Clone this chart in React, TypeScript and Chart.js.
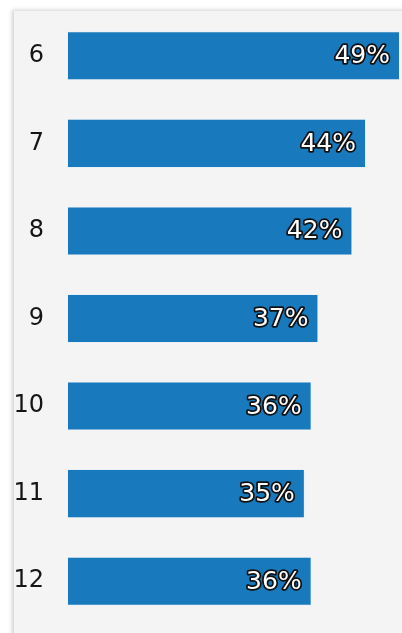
import React, { useEffect, useRef } from "react";
import { Chart, registerables } from "chart.js";

Chart.register(...registerables);

const categories = ["6", "7", "8", "9", "10", "11", "12"];
const values = [49, 44, 42, 37, 36, 35, 36];

const labelPlugin = {
  id: "valueLabels",
  afterDatasetsDraw(chart: any) {
    const ctx = chart.ctx;
    const meta = chart.getDatasetMeta(0);
    ctx.save();
    ctx.font = "500 25px 'DejaVu Sans', sans-serif";
    ctx.textAlign = "right";
    ctx.textBaseline = "middle";
    ctx.lineJoin = "round";
    meta.data.forEach((bar: any, i: number) => {
      const text = values[i] + "%";
      const x = bar.x - 10;
      const y = bar.y + 1;
      ctx.lineWidth = 3.5;
      ctx.strokeStyle = "#111";
      ctx.strokeText(text, x, y);
      ctx.fillStyle = "#ffffff";
      ctx.fillText(text, x, y);
    });
    ctx.restore();
  },
};

export default function App() {
  const ref = useRef<HTMLCanvasElement>(null);
  useEffect(() => {
    const chart = new Chart(ref.current!, {
      type: "bar",
      data: {
        labels: categories,
        datasets: [
          {
            data: values,
            backgroundColor: "#1879bd",
            borderColor: "#e9f1f8",
            borderWidth: 1,
            borderSkipped: false,
            categoryPercentage: 1,
            barPercentage: 0.56,
          },
        ],
      },
      options: {
        indexAxis: "y",
        animation: false,
        responsive: false,
        maintainAspectRatio: false,
        layout: { padding: { top: 12, bottom: 8, right: 2, left: 0 } },
        plugins: { legend: { display: false }, tooltip: { enabled: false } },
        scales: {
          x: { display: false, min: 0, max: 49 },
          y: {
            grid: { display: false, drawTicks: false },
            border: { display: false },
            ticks: {
              padding: 23,
              color: "#151515",
              font: { family: "'DejaVu Sans', sans-serif", size: 24 },
            },
            afterFit: (scale: any) => {
              scale.width = 67;
              scale.paddingTop = 0;
              scale.paddingBottom = 0;
            },
          },
        },
      },
      plugins: [labelPlugin],
    });
    return () => chart.destroy();
  }, []);
  return (
    <div style={{ position: "fixed", left: 0, top: 0, width: 402, height: 633, background: "#fff", overflow: "hidden" }}>
      <div
        style={{
          position: "absolute",
          left: 14,
          top: 11,
          width: 440,
          height: 680,
          background: "#f4f4f4",
          boxShadow: "-2px -1px 4px rgba(0,0,0,0.18)",
        }}
      />
      <canvas ref={ref} width={402} height={633} style={{ position: "absolute", left: 0, top: 0 }} />
    </div>
  );
}
